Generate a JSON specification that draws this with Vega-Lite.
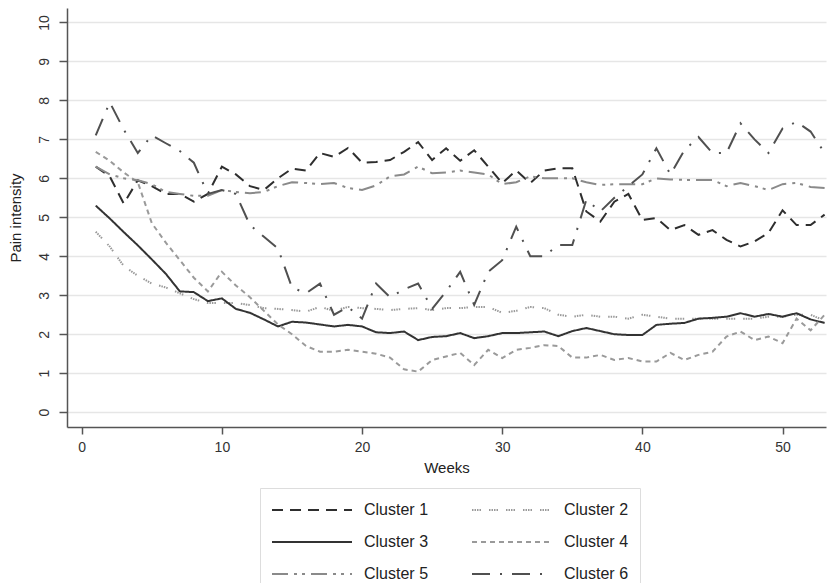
{
  "$schema": "https://vega.github.io/schema/vega-lite/v6.json",
  "width": 759,
  "height": 419,
  "autosize": {"type": "none"},
  "padding": {"left": 67, "top": 8, "right": 5, "bottom": 156},
  "background": "white",
  "config": {
    "view": {"stroke": null},
    "font": "Liberation Sans",
    "axis": {"labelFont": "Liberation Sans", "titleFont": "Liberation Sans", "labelColor": "#333", "titleColor": "#222", "domainColor": "#555", "tickColor": "#555", "domainWidth": 1.5, "tickWidth": 1.5, "labelFontSize": 14, "titleFontSize": 15, "titleFontWeight": "normal"}
  },
  "data": {"values": [
    {"week":1,"cluster":"Cluster 1","pain":6.3},{"week":2,"cluster":"Cluster 1","pain":6.05},{"week":3,"cluster":"Cluster 1","pain":5.35},{"week":4,"cluster":"Cluster 1","pain":5.95},{"week":5,"cluster":"Cluster 1","pain":5.8},{"week":6,"cluster":"Cluster 1","pain":5.6},{"week":7,"cluster":"Cluster 1","pain":5.6},{"week":8,"cluster":"Cluster 1","pain":5.4},{"week":9,"cluster":"Cluster 1","pain":5.6},{"week":10,"cluster":"Cluster 1","pain":6.3},
    {"week":11,"cluster":"Cluster 1","pain":6.1},{"week":12,"cluster":"Cluster 1","pain":5.8},{"week":13,"cluster":"Cluster 1","pain":5.7},{"week":14,"cluster":"Cluster 1","pain":6.0},{"week":15,"cluster":"Cluster 1","pain":6.25},{"week":16,"cluster":"Cluster 1","pain":6.2},{"week":17,"cluster":"Cluster 1","pain":6.65},{"week":18,"cluster":"Cluster 1","pain":6.55},{"week":19,"cluster":"Cluster 1","pain":6.78},{"week":20,"cluster":"Cluster 1","pain":6.4},
    {"week":21,"cluster":"Cluster 1","pain":6.42},{"week":22,"cluster":"Cluster 1","pain":6.47},{"week":23,"cluster":"Cluster 1","pain":6.68},{"week":24,"cluster":"Cluster 1","pain":6.93},{"week":25,"cluster":"Cluster 1","pain":6.47},{"week":26,"cluster":"Cluster 1","pain":6.77},{"week":27,"cluster":"Cluster 1","pain":6.45},{"week":28,"cluster":"Cluster 1","pain":6.72},{"week":29,"cluster":"Cluster 1","pain":6.3},{"week":30,"cluster":"Cluster 1","pain":5.88},
    {"week":31,"cluster":"Cluster 1","pain":6.2},{"week":32,"cluster":"Cluster 1","pain":5.88},{"week":33,"cluster":"Cluster 1","pain":6.2},{"week":34,"cluster":"Cluster 1","pain":6.26},{"week":35,"cluster":"Cluster 1","pain":6.26},{"week":36,"cluster":"Cluster 1","pain":5.15},{"week":37,"cluster":"Cluster 1","pain":4.89},{"week":38,"cluster":"Cluster 1","pain":5.4},{"week":39,"cluster":"Cluster 1","pain":5.6},{"week":40,"cluster":"Cluster 1","pain":4.93},
    {"week":41,"cluster":"Cluster 1","pain":4.98},{"week":42,"cluster":"Cluster 1","pain":4.67},{"week":43,"cluster":"Cluster 1","pain":4.8},{"week":44,"cluster":"Cluster 1","pain":4.55},{"week":45,"cluster":"Cluster 1","pain":4.67},{"week":46,"cluster":"Cluster 1","pain":4.42},{"week":47,"cluster":"Cluster 1","pain":4.25},{"week":48,"cluster":"Cluster 1","pain":4.38},{"week":49,"cluster":"Cluster 1","pain":4.6},{"week":50,"cluster":"Cluster 1","pain":5.18},
    {"week":51,"cluster":"Cluster 1","pain":4.8},{"week":52,"cluster":"Cluster 1","pain":4.8},{"week":53,"cluster":"Cluster 1","pain":5.07},

    {"week":1,"cluster":"Cluster 2","pain":4.63},{"week":2,"cluster":"Cluster 2","pain":4.25},{"week":3,"cluster":"Cluster 2","pain":3.75},{"week":4,"cluster":"Cluster 2","pain":3.5},{"week":5,"cluster":"Cluster 2","pain":3.3},{"week":6,"cluster":"Cluster 2","pain":3.2},{"week":7,"cluster":"Cluster 2","pain":3.05},{"week":8,"cluster":"Cluster 2","pain":2.9},{"week":9,"cluster":"Cluster 2","pain":2.8},{"week":10,"cluster":"Cluster 2","pain":2.8},
    {"week":11,"cluster":"Cluster 2","pain":2.8},{"week":12,"cluster":"Cluster 2","pain":2.75},{"week":13,"cluster":"Cluster 2","pain":2.67},{"week":14,"cluster":"Cluster 2","pain":2.65},{"week":15,"cluster":"Cluster 2","pain":2.62},{"week":16,"cluster":"Cluster 2","pain":2.58},{"week":17,"cluster":"Cluster 2","pain":2.7},{"week":18,"cluster":"Cluster 2","pain":2.6},{"week":19,"cluster":"Cluster 2","pain":2.7},{"week":20,"cluster":"Cluster 2","pain":2.67},
    {"week":21,"cluster":"Cluster 2","pain":2.65},{"week":22,"cluster":"Cluster 2","pain":2.62},{"week":23,"cluster":"Cluster 2","pain":2.65},{"week":24,"cluster":"Cluster 2","pain":2.67},{"week":25,"cluster":"Cluster 2","pain":2.62},{"week":26,"cluster":"Cluster 2","pain":2.67},{"week":27,"cluster":"Cluster 2","pain":2.67},{"week":28,"cluster":"Cluster 2","pain":2.7},{"week":29,"cluster":"Cluster 2","pain":2.7},{"week":30,"cluster":"Cluster 2","pain":2.55},
    {"week":31,"cluster":"Cluster 2","pain":2.6},{"week":32,"cluster":"Cluster 2","pain":2.7},{"week":33,"cluster":"Cluster 2","pain":2.67},{"week":34,"cluster":"Cluster 2","pain":2.5},{"week":35,"cluster":"Cluster 2","pain":2.45},{"week":36,"cluster":"Cluster 2","pain":2.5},{"week":37,"cluster":"Cluster 2","pain":2.45},{"week":38,"cluster":"Cluster 2","pain":2.45},{"week":39,"cluster":"Cluster 2","pain":2.4},{"week":40,"cluster":"Cluster 2","pain":2.5},
    {"week":41,"cluster":"Cluster 2","pain":2.45},{"week":42,"cluster":"Cluster 2","pain":2.4},{"week":43,"cluster":"Cluster 2","pain":2.4},{"week":44,"cluster":"Cluster 2","pain":2.4},{"week":45,"cluster":"Cluster 2","pain":2.4},{"week":46,"cluster":"Cluster 2","pain":2.4},{"week":47,"cluster":"Cluster 2","pain":2.4},{"week":48,"cluster":"Cluster 2","pain":2.4},{"week":49,"cluster":"Cluster 2","pain":2.45},{"week":50,"cluster":"Cluster 2","pain":2.45},
    {"week":51,"cluster":"Cluster 2","pain":2.5},{"week":52,"cluster":"Cluster 2","pain":2.5},{"week":53,"cluster":"Cluster 2","pain":2.35},

    {"week":1,"cluster":"Cluster 3","pain":5.3},{"week":2,"cluster":"Cluster 3","pain":4.97},{"week":3,"cluster":"Cluster 3","pain":4.62},{"week":4,"cluster":"Cluster 3","pain":4.28},{"week":5,"cluster":"Cluster 3","pain":3.92},{"week":6,"cluster":"Cluster 3","pain":3.55},{"week":7,"cluster":"Cluster 3","pain":3.1},{"week":8,"cluster":"Cluster 3","pain":3.08},{"week":9,"cluster":"Cluster 3","pain":2.85},{"week":10,"cluster":"Cluster 3","pain":2.92},
    {"week":11,"cluster":"Cluster 3","pain":2.65},{"week":12,"cluster":"Cluster 3","pain":2.55},{"week":13,"cluster":"Cluster 3","pain":2.38},{"week":14,"cluster":"Cluster 3","pain":2.2},{"week":15,"cluster":"Cluster 3","pain":2.32},{"week":16,"cluster":"Cluster 3","pain":2.3},{"week":17,"cluster":"Cluster 3","pain":2.25},{"week":18,"cluster":"Cluster 3","pain":2.2},{"week":19,"cluster":"Cluster 3","pain":2.24},{"week":20,"cluster":"Cluster 3","pain":2.2},
    {"week":21,"cluster":"Cluster 3","pain":2.05},{"week":22,"cluster":"Cluster 3","pain":2.03},{"week":23,"cluster":"Cluster 3","pain":2.07},{"week":24,"cluster":"Cluster 3","pain":1.85},{"week":25,"cluster":"Cluster 3","pain":1.93},{"week":26,"cluster":"Cluster 3","pain":1.95},{"week":27,"cluster":"Cluster 3","pain":2.03},{"week":28,"cluster":"Cluster 3","pain":1.9},{"week":29,"cluster":"Cluster 3","pain":1.95},{"week":30,"cluster":"Cluster 3","pain":2.03},
    {"week":31,"cluster":"Cluster 3","pain":2.03},{"week":32,"cluster":"Cluster 3","pain":2.05},{"week":33,"cluster":"Cluster 3","pain":2.07},{"week":34,"cluster":"Cluster 3","pain":1.95},{"week":35,"cluster":"Cluster 3","pain":2.08},{"week":36,"cluster":"Cluster 3","pain":2.16},{"week":37,"cluster":"Cluster 3","pain":2.08},{"week":38,"cluster":"Cluster 3","pain":2.0},{"week":39,"cluster":"Cluster 3","pain":1.98},{"week":40,"cluster":"Cluster 3","pain":1.98},
    {"week":41,"cluster":"Cluster 3","pain":2.24},{"week":42,"cluster":"Cluster 3","pain":2.27},{"week":43,"cluster":"Cluster 3","pain":2.29},{"week":44,"cluster":"Cluster 3","pain":2.4},{"week":45,"cluster":"Cluster 3","pain":2.42},{"week":46,"cluster":"Cluster 3","pain":2.45},{"week":47,"cluster":"Cluster 3","pain":2.54},{"week":48,"cluster":"Cluster 3","pain":2.45},{"week":49,"cluster":"Cluster 3","pain":2.52},{"week":50,"cluster":"Cluster 3","pain":2.45},
    {"week":51,"cluster":"Cluster 3","pain":2.54},{"week":52,"cluster":"Cluster 3","pain":2.38},{"week":53,"cluster":"Cluster 3","pain":2.29},

    {"week":1,"cluster":"Cluster 4","pain":6.68},{"week":2,"cluster":"Cluster 4","pain":6.45},{"week":3,"cluster":"Cluster 4","pain":6.15},{"week":4,"cluster":"Cluster 4","pain":5.9},{"week":5,"cluster":"Cluster 4","pain":4.85},{"week":6,"cluster":"Cluster 4","pain":4.35},{"week":7,"cluster":"Cluster 4","pain":3.9},{"week":8,"cluster":"Cluster 4","pain":3.45},{"week":9,"cluster":"Cluster 4","pain":3.1},{"week":10,"cluster":"Cluster 4","pain":3.6},
    {"week":11,"cluster":"Cluster 4","pain":3.25},{"week":12,"cluster":"Cluster 4","pain":2.95},{"week":13,"cluster":"Cluster 4","pain":2.6},{"week":14,"cluster":"Cluster 4","pain":2.25},{"week":15,"cluster":"Cluster 4","pain":2.0},{"week":16,"cluster":"Cluster 4","pain":1.7},{"week":17,"cluster":"Cluster 4","pain":1.55},{"week":18,"cluster":"Cluster 4","pain":1.55},{"week":19,"cluster":"Cluster 4","pain":1.6},{"week":20,"cluster":"Cluster 4","pain":1.55},
    {"week":21,"cluster":"Cluster 4","pain":1.5},{"week":22,"cluster":"Cluster 4","pain":1.4},{"week":23,"cluster":"Cluster 4","pain":1.1},{"week":24,"cluster":"Cluster 4","pain":1.04},{"week":25,"cluster":"Cluster 4","pain":1.34},{"week":26,"cluster":"Cluster 4","pain":1.43},{"week":27,"cluster":"Cluster 4","pain":1.52},{"week":28,"cluster":"Cluster 4","pain":1.21},{"week":29,"cluster":"Cluster 4","pain":1.6},{"week":30,"cluster":"Cluster 4","pain":1.39},
    {"week":31,"cluster":"Cluster 4","pain":1.6},{"week":32,"cluster":"Cluster 4","pain":1.65},{"week":33,"cluster":"Cluster 4","pain":1.72},{"week":34,"cluster":"Cluster 4","pain":1.7},{"week":35,"cluster":"Cluster 4","pain":1.4},{"week":36,"cluster":"Cluster 4","pain":1.4},{"week":37,"cluster":"Cluster 4","pain":1.47},{"week":38,"cluster":"Cluster 4","pain":1.34},{"week":39,"cluster":"Cluster 4","pain":1.39},{"week":40,"cluster":"Cluster 4","pain":1.3},
    {"week":41,"cluster":"Cluster 4","pain":1.3},{"week":42,"cluster":"Cluster 4","pain":1.52},{"week":43,"cluster":"Cluster 4","pain":1.34},{"week":44,"cluster":"Cluster 4","pain":1.47},{"week":45,"cluster":"Cluster 4","pain":1.55},{"week":46,"cluster":"Cluster 4","pain":1.94},{"week":47,"cluster":"Cluster 4","pain":2.07},{"week":48,"cluster":"Cluster 4","pain":1.85},{"week":49,"cluster":"Cluster 4","pain":1.94},{"week":50,"cluster":"Cluster 4","pain":1.77},
    {"week":51,"cluster":"Cluster 4","pain":2.4},{"week":52,"cluster":"Cluster 4","pain":2.1},{"week":53,"cluster":"Cluster 4","pain":2.5},

    {"week":1,"cluster":"Cluster 5","pain":6.3},{"week":2,"cluster":"Cluster 5","pain":6.1},{"week":3,"cluster":"Cluster 5","pain":6.0},{"week":4,"cluster":"Cluster 5","pain":5.95},{"week":5,"cluster":"Cluster 5","pain":5.85},{"week":6,"cluster":"Cluster 5","pain":5.65},{"week":7,"cluster":"Cluster 5","pain":5.6},{"week":8,"cluster":"Cluster 5","pain":5.55},{"week":9,"cluster":"Cluster 5","pain":5.55},{"week":10,"cluster":"Cluster 5","pain":5.7},
    {"week":11,"cluster":"Cluster 5","pain":5.65},{"week":12,"cluster":"Cluster 5","pain":5.62},{"week":13,"cluster":"Cluster 5","pain":5.65},{"week":14,"cluster":"Cluster 5","pain":5.8},{"week":15,"cluster":"Cluster 5","pain":5.9},{"week":16,"cluster":"Cluster 5","pain":5.88},{"week":17,"cluster":"Cluster 5","pain":5.85},{"week":18,"cluster":"Cluster 5","pain":5.88},{"week":19,"cluster":"Cluster 5","pain":5.75},{"week":20,"cluster":"Cluster 5","pain":5.7},
    {"week":21,"cluster":"Cluster 5","pain":5.82},{"week":22,"cluster":"Cluster 5","pain":6.05},{"week":23,"cluster":"Cluster 5","pain":6.1},{"week":24,"cluster":"Cluster 5","pain":6.3},{"week":25,"cluster":"Cluster 5","pain":6.13},{"week":26,"cluster":"Cluster 5","pain":6.15},{"week":27,"cluster":"Cluster 5","pain":6.2},{"week":28,"cluster":"Cluster 5","pain":6.15},{"week":29,"cluster":"Cluster 5","pain":6.1},{"week":30,"cluster":"Cluster 5","pain":5.85},
    {"week":31,"cluster":"Cluster 5","pain":5.9},{"week":32,"cluster":"Cluster 5","pain":6.05},{"week":33,"cluster":"Cluster 5","pain":6.0},{"week":34,"cluster":"Cluster 5","pain":6.0},{"week":35,"cluster":"Cluster 5","pain":6.0},{"week":36,"cluster":"Cluster 5","pain":5.9},{"week":37,"cluster":"Cluster 5","pain":5.83},{"week":38,"cluster":"Cluster 5","pain":5.85},{"week":39,"cluster":"Cluster 5","pain":5.85},{"week":40,"cluster":"Cluster 5","pain":5.85},
    {"week":41,"cluster":"Cluster 5","pain":6.0},{"week":42,"cluster":"Cluster 5","pain":5.97},{"week":43,"cluster":"Cluster 5","pain":5.96},{"week":44,"cluster":"Cluster 5","pain":5.96},{"week":45,"cluster":"Cluster 5","pain":5.96},{"week":46,"cluster":"Cluster 5","pain":5.8},{"week":47,"cluster":"Cluster 5","pain":5.88},{"week":48,"cluster":"Cluster 5","pain":5.8},{"week":49,"cluster":"Cluster 5","pain":5.7},{"week":50,"cluster":"Cluster 5","pain":5.85},
    {"week":51,"cluster":"Cluster 5","pain":5.88},{"week":52,"cluster":"Cluster 5","pain":5.78},{"week":53,"cluster":"Cluster 5","pain":5.75},

    {"week":1,"cluster":"Cluster 6","pain":7.1},{"week":2,"cluster":"Cluster 6","pain":7.95},{"week":3,"cluster":"Cluster 6","pain":7.25},{"week":4,"cluster":"Cluster 6","pain":6.65},{"week":5,"cluster":"Cluster 6","pain":7.1},{"week":6,"cluster":"Cluster 6","pain":6.9},{"week":7,"cluster":"Cluster 6","pain":6.7},{"week":8,"cluster":"Cluster 6","pain":6.4},{"week":9,"cluster":"Cluster 6","pain":5.6},{"week":10,"cluster":"Cluster 6","pain":5.7},
    {"week":11,"cluster":"Cluster 6","pain":5.6},{"week":12,"cluster":"Cluster 6","pain":4.8},{"week":13,"cluster":"Cluster 6","pain":4.5},{"week":14,"cluster":"Cluster 6","pain":4.2},{"week":15,"cluster":"Cluster 6","pain":3.2},{"week":16,"cluster":"Cluster 6","pain":3.05},{"week":17,"cluster":"Cluster 6","pain":3.3},{"week":18,"cluster":"Cluster 6","pain":2.5},{"week":19,"cluster":"Cluster 6","pain":2.7},{"week":20,"cluster":"Cluster 6","pain":2.4},
    {"week":21,"cluster":"Cluster 6","pain":3.3},{"week":22,"cluster":"Cluster 6","pain":2.95},{"week":23,"cluster":"Cluster 6","pain":3.15},{"week":24,"cluster":"Cluster 6","pain":3.3},{"week":25,"cluster":"Cluster 6","pain":2.65},{"week":26,"cluster":"Cluster 6","pain":3.1},{"week":27,"cluster":"Cluster 6","pain":3.6},{"week":28,"cluster":"Cluster 6","pain":2.75},{"week":29,"cluster":"Cluster 6","pain":3.6},{"week":30,"cluster":"Cluster 6","pain":3.9},
    {"week":31,"cluster":"Cluster 6","pain":4.76},{"week":32,"cluster":"Cluster 6","pain":4.0},{"week":33,"cluster":"Cluster 6","pain":4.0},{"week":34,"cluster":"Cluster 6","pain":4.29},{"week":35,"cluster":"Cluster 6","pain":4.29},{"week":36,"cluster":"Cluster 6","pain":5.45},{"week":37,"cluster":"Cluster 6","pain":5.15},{"week":38,"cluster":"Cluster 6","pain":5.5},{"week":39,"cluster":"Cluster 6","pain":5.8},{"week":40,"cluster":"Cluster 6","pain":6.1},
    {"week":41,"cluster":"Cluster 6","pain":6.77},{"week":42,"cluster":"Cluster 6","pain":6.1},{"week":43,"cluster":"Cluster 6","pain":6.72},{"week":44,"cluster":"Cluster 6","pain":7.06},{"week":45,"cluster":"Cluster 6","pain":6.65},{"week":46,"cluster":"Cluster 6","pain":6.65},{"week":47,"cluster":"Cluster 6","pain":7.41},{"week":48,"cluster":"Cluster 6","pain":7.0},{"week":49,"cluster":"Cluster 6","pain":6.65},{"week":50,"cluster":"Cluster 6","pain":7.28},
    {"week":51,"cluster":"Cluster 6","pain":7.45},{"week":52,"cluster":"Cluster 6","pain":7.2},{"week":53,"cluster":"Cluster 6","pain":6.65}
  ]},
  "mark": {"type": "line", "strokeWidth": 2, "clip": true},
  "encoding": {
    "x": {
      "field": "week", "type": "quantitative",
      "scale": {"domain": [-1.05, 53.1], "nice": false, "zero": false},
      "axis": {"title": "Weeks", "values": [0, 10, 20, 30, 40, 50], "grid": false, "tickSize": 7, "labelPadding": 6, "titlePadding": 6, "labelFlush": false}
    },
    "y": {
      "field": "pain", "type": "quantitative",
      "scale": {"domain": [-0.38, 10.37], "nice": false, "zero": false},
      "axis": {"title": "Pain intensity", "values": [0,1,2,3,4,5,6,7,8,9,10], "grid": true, "gridColor": "#e6e6e6", "gridWidth": 1.5, "tickSize": 8, "labelAngle": -90, "labelAlign": "center", "labelBaseline": "bottom", "labelPadding": 8, "titlePadding": 14, "labelFlush": false}
    },
    "color": {
      "field": "cluster", "type": "nominal",
      "scale": {"domain": ["Cluster 1","Cluster 2","Cluster 3","Cluster 4","Cluster 5","Cluster 6"], "range": ["#2e2e2e","#9a9a9a","#333333","#9a9a9a","#8a8a8a","#505050"]},
      "legend": {"title": null, "orient": "none", "direction": "horizontal", "legendX": 193, "legendY": 480, "columns": 2, "symbolType": "M-1,0L7,0", "symbolSize": 400, "symbolStrokeWidth": 2, "labelOffset": 71, "labelFontSize": 16, "labelColor": "#222", "labelFont": "Liberation Sans", "rowPadding": 13, "columnPadding": 39, "padding": 11, "strokeColor": "#dddddd"}
    },
    "strokeDash": {
      "field": "cluster", "type": "nominal",
      "scale": {"domain": ["Cluster 1","Cluster 2","Cluster 3","Cluster 4","Cluster 5","Cluster 6"], "range": [[11,7],[1.5,1,1.5,1,1.5,1,1.5,8],[1,0],[5,4],[16,6,3,5,3,6],[18,10,2,10]]},
      "legend": {"title": null, "orient": "none", "direction": "horizontal", "legendX": 193, "legendY": 480, "columns": 2, "symbolType": "M-1,0L7,0", "symbolSize": 400, "symbolStrokeWidth": 2, "labelOffset": 71, "labelFontSize": 16, "labelColor": "#222", "labelFont": "Liberation Sans", "rowPadding": 13, "columnPadding": 39, "padding": 11, "strokeColor": "#dddddd"}
    }
  }
}
